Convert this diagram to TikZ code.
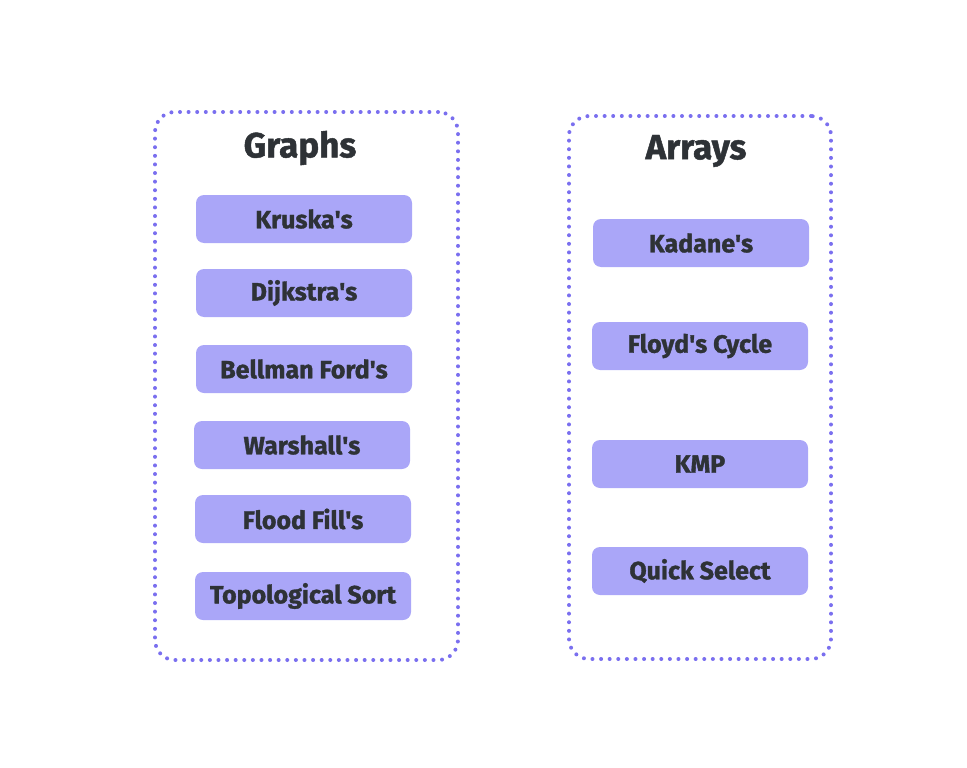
\documentclass[tikz,border=0pt]{standalone}
\usepackage{fontspec}
\setmainfont{Fira Sans}[BoldFeatures={FakeBold=1.3}]
\definecolor{pLilac}{RGB}{170,166,248}
\definecolor{pViolet}{RGB}{122,111,239}
\definecolor{pInk}{RGB}{46,50,54}
\newcommand{\ap}{\textquotesingle}
\tikzset{
    grp/.style={draw=pViolet, line width=4pt, line cap=round, dash pattern=on 0pt off 8.6pt, rounded corners=20pt, inner sep=0pt},
    algo/.style={fill=pLilac, rounded corners=8pt, minimum width=216pt, minimum height=48pt, inner sep=0pt, text=pInk, font=\bfseries\fontsize{25}{28}\selectfont},
    ttl/.style={text=pInk, inner sep=0pt, font=\bfseries\fontsize{35}{40}\selectfont}
}

\begin{document}
\begin{tikzpicture}[x=1pt,y=-1pt]
\useasboundingbox (0,0) rectangle (967,768);
\node[grp, minimum width=303pt, minimum height=548pt] (graphs) at (306.5,386) {};
\node[grp, minimum width=262pt, minimum height=543pt] (arrays) at (700,387.5) {};
\node[ttl] (tGraphs) at (300,148) {Graphs};
\node[ttl] (tArrays) at (696,151) {Arrays};
\node[algo] (kruskal)  at (304,219) {Kruska\ap s};
\node[algo] (dijkstra) at (304,293) {Dijkstra\ap s};
\node[algo] (bellman)  at (304,369) {Bellman Ford\ap s};
\node[algo] (warshall) at (302,445) {Warshall\ap s};
\node[algo] (flood)    at (303,519) {Flood Fill\ap s};
\node[algo] (topo)     at (303,596) {Topological Sort};
\node[algo] (kadane)   at (701,243) {Kadane\ap s};
\node[algo] (floyd)    at (700,346) {Floyd\ap s Cycle};
\node[algo] (kmp)      at (700,464) {KMP};
\node[algo] (qselect)  at (700,571) {Quick Select};
\end{tikzpicture}
\end{document}
